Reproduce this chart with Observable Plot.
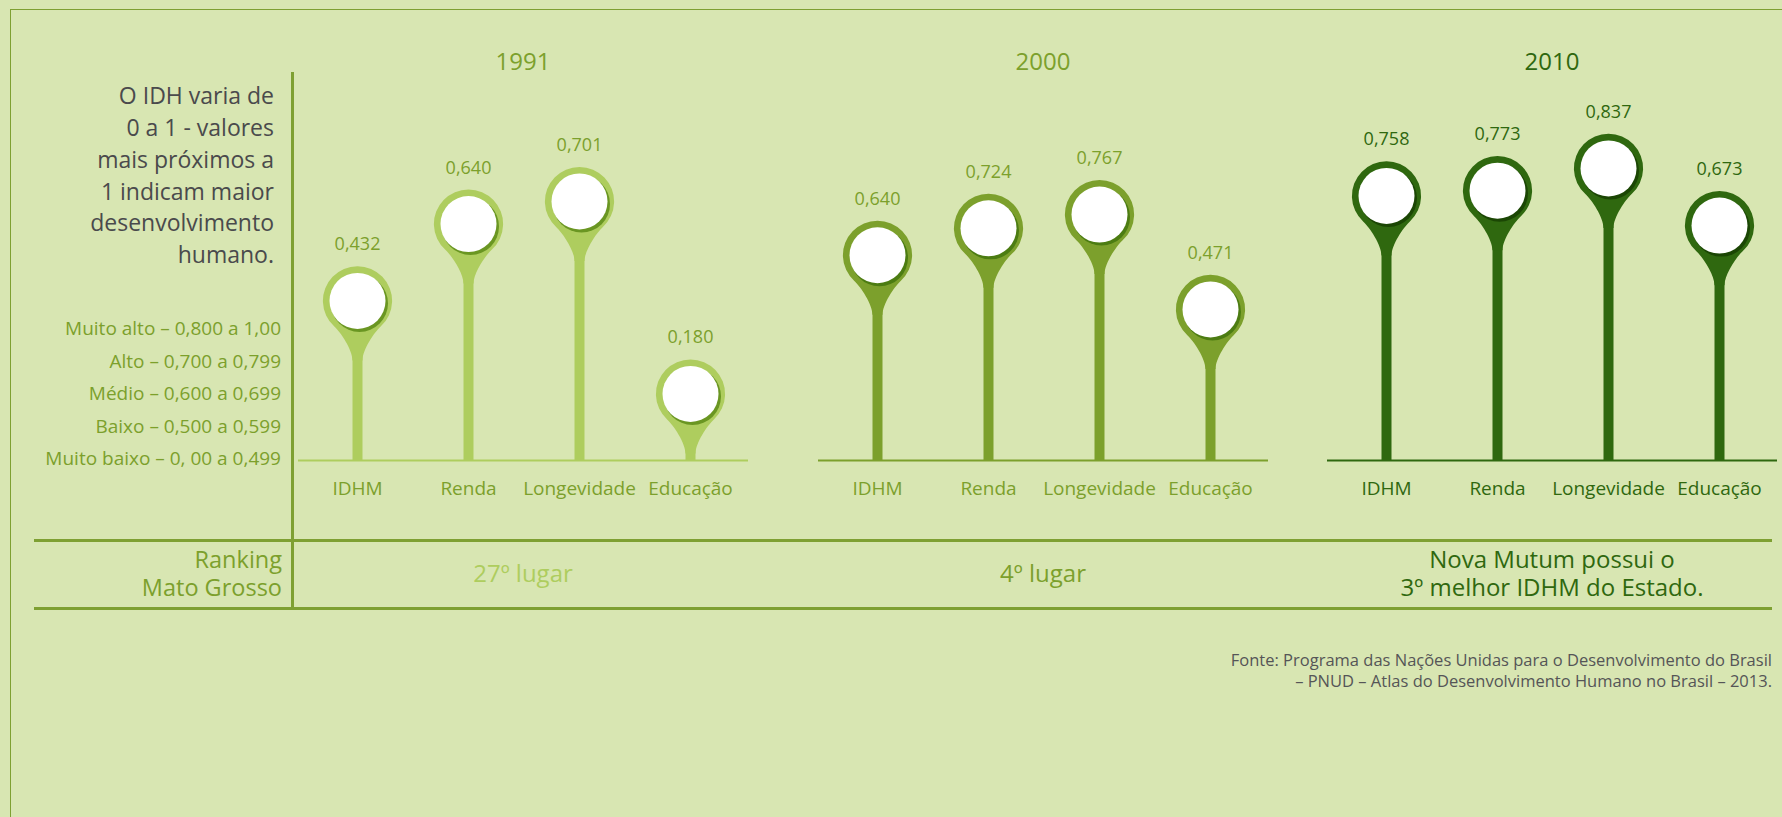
<!DOCTYPE html>
<html><head><meta charset="utf-8">
<script src="https://cdn.jsdelivr.net/npm/d3@7"></script>
<script src="https://cdn.jsdelivr.net/npm/@observablehq/plot@0.6"></script>
<style>
html,body{margin:0;padding:0}
body{width:1782px;height:817px;background:#d8e6b2;position:relative;overflow:hidden;font-family:"Open Sans",sans-serif}
.txt{position:absolute;white-space:pre}
.ln{position:absolute}
.panel{position:absolute;top:0}
</style></head><body>
<script>
// ---------- data ----------
const years = ["1991", "2000", "2010"];
const categories = ["IDHM", "Renda", "Longevidade", "Educação"];
const values1991 = [0.432, 0.640, 0.701, 0.180];
const values2000 = [0.640, 0.724, 0.767, 0.471];
const values2010 = [0.758, 0.773, 0.837, 0.673];
const rankingTexts = [["27º lugar"], ["4º lugar"], ["Nova Mutum possui o", "3º melhor IDHM do Estado."]];
const rankingLabel = ["Ranking", "Mato Grosso"];
const introLines = ["O IDH varia de", "0 a 1 - valores", "mais próximos a", "1 indicam maior", "desenvolvimento", "humano."];
const legendLines = ["Muito alto – 0,800 a 1,00", "Alto – 0,700 a 0,799", "Médio – 0,600 a 0,699", "Baixo – 0,500 a 0,599", "Muito baixo – 0, 00 a 0,499"];
const sourceLines = ["Fonte: Programa das Nações Unidas para o Desenvolvimento do Brasil", "– PNUD – Atlas do Desenvolvimento Humano no Brasil – 2013."];
const seriesValues = [values1991, values2000, values2010];

// ---------- styles / layout ----------
const LIGHT = "#aecd5e", MID = "#7ca02c", DARK = "#2f680f";
const GREY = "#4a4a4c", LINE = "#7ea032";
const panelStyle = [
  {pin: LIGHT, text: MID, shade: "#6a9622", left: 298, k: 369.5, rank: LIGHT},
  {pin: MID, text: MID, shade: "#4c7c12", left: 818, k: 320.7, rank: MID},
  {pin: DARK, text: DARK, shade: "#1b4604", left: 1327, k: 349, rank: DARK}
];
const PW = 450, BASE = 460;

// one text block (possibly multi-line) positioned by its first baseline
function addText(lines, {x, baseline, step, size, color, align}) {
  const lh = step || size * 1.4;
  const d = document.createElement("div");
  d.className = "txt";
  d.textContent = lines.join("\n");
  d.style.fontSize = size + "px";
  d.style.lineHeight = lh + "px";
  d.style.color = color;
  d.style.textAlign = align;
  d.style.top = (baseline - ((lh - 1.362 * size) / 2 + 1.069 * size)) + "px";
  if (align === "right") d.style.right = (1782 - x) + "px";
  else if (align === "center") { d.style.left = x + "px"; d.style.transform = "translateX(-50%)"; }
  else d.style.left = x + "px";
  document.body.appendChild(d);
}
function addLine(x, y, w, h, color) {
  const d = document.createElement("div");
  d.className = "ln";
  Object.assign(d.style, {left: x + "px", top: y + "px", width: w + "px", height: h + "px", background: color});
  document.body.appendChild(d);
}

// frame and separators
addLine(10, 9, 1772, 1, LINE);
addLine(10, 9, 1, 808, LINE);
addLine(34, 538.5, 1738, 3, LINE);
addLine(34, 607, 1738, 3, LINE);
addLine(291, 72, 3, 538, LINE);

// pin symbol (ring + tapered neck)
const pin = {
  draw(ctx, size) {
    const R = Math.sqrt(size / Math.PI);
    const a = 42 * Math.PI / 180;
    const sx = Math.sin(a) * R, sy = Math.cos(a) * R;
    const tx = Math.cos(a), ty = Math.sin(a); // tangent direction at the departure point
    const w = 0.145 * R, L = 1.72 * R, d = 0.25 * R;
    ctx.moveTo(-w, L);
    ctx.bezierCurveTo(-w, 1.42 * R, -sx + tx * d, sy + ty * d, -sx, sy);
    ctx.arc(0, 0, R, Math.PI / 2 + a, Math.PI / 2 - a + 2 * Math.PI, false);
    ctx.bezierCurveTo(sx - tx * d, sy + ty * d, w, 1.42 * R, w, L);
    ctx.closePath();
  }
};
const fmt = v => v.toFixed(3).replace(".", ",");

years.forEach((year, idx) => {
  const st = panelStyle[idx];
  const data = categories.map((c, i) => ({cat: c, value: seriesValues[idx][i]}));
  const svg = Plot.plot({
    width: PW, height: 520,
    marginLeft: 0, marginRight: 0, marginTop: 0, marginBottom: 0,
    x: {type: "point", domain: categories, padding: 0.52, axis: null},
    y: {domain: [0, 1], range: [BASE, BASE - st.k], axis: null},
    style: {background: "transparent", fontFamily: "'Open Sans', sans-serif", overflow: "visible"},
    marks: [
      Plot.ruleY([0], {stroke: st.pin, strokeWidth: 2}),
      Plot.ruleX(data, {x: "cat", y1: 0, y2: "value", stroke: st.pin, strokeWidth: 10}),
      Plot.dot(data, {x: "cat", y: "value", symbol: pin, r: 34.6, fill: st.pin, stroke: "none"}),
      Plot.dot(data, {x: "cat", y: "value", r: 28.5, dx: 2, dy: 2.5, fill: st.shade, stroke: "none", ariaLabel: "shadow"}),
      Plot.dot(data, {x: "cat", y: "value", r: 28, fill: "white", stroke: "none"}),
      Plot.text(data, {x: "cat", y: "value", text: d => fmt(d.value), dy: -50.5, lineAnchor: "bottom", fontSize: 18, fill: st.text}),
      Plot.text(data, {x: "cat", y: 0, text: "cat", dy: 34.5, lineAnchor: "bottom", fontSize: 19, fill: st.text})
    ]
  });
  const sel = d3.select(svg);
  const fid = "blur" + idx;
  sel.insert("defs", ":first-child").append("filter").attr("id", fid)
    .attr("x", "-50%").attr("y", "-50%").attr("width", "200%").attr("height", "200%")
    .append("feGaussianBlur").attr("stdDeviation", 1.6);
  sel.selectAll('g[aria-label="shadow"]').attr("filter", `url(#${fid})`);
  const wrap = document.createElement("div");
  wrap.className = "panel";
  wrap.style.left = st.left + "px";
  wrap.appendChild(svg);
  document.body.appendChild(wrap);

  const cx = st.left + PW / 2;
  addText([year], {x: cx, baseline: 70.5, size: 24, color: idx === 2 ? DARK : MID, align: "center"});
  const r = rankingTexts[idx];
  addText(r, {x: cx, baseline: r.length === 1 ? 583 : 568.3, step: 28.4, size: 24, color: st.rank, align: "center"});
});

addText(introLines, {x: 274, baseline: 105, step: 31.8, size: 23, color: GREY, align: "right"});
addText(legendLines, {x: 281, baseline: 335.7, step: 32.5, size: 19, color: MID, align: "right"});
addText(rankingLabel, {x: 282, baseline: 568, step: 28.7, size: 23.5, color: MID, align: "right"});
addText(sourceLines, {x: 1772, baseline: 666.7, step: 20.6, size: 16.5, color: "#555557", align: "right"});
</script>
</body></html>
